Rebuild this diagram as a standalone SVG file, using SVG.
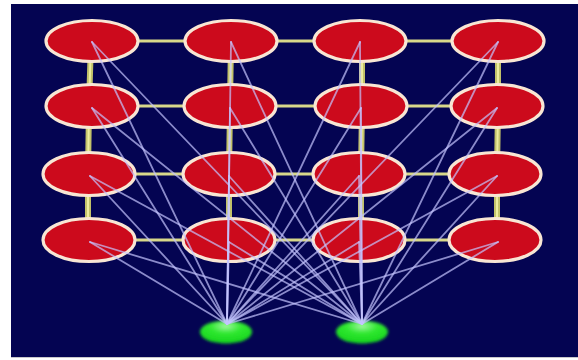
<svg xmlns="http://www.w3.org/2000/svg" width="578" height="360" viewBox="0 0 578 360">
  <defs>
    <style>
      .grid-h { fill: none; stroke: #d8d88a; stroke-width: 3; }
      .grid-v { fill: none; stroke: #c2c26a; stroke-width: 6; }
      .grid-v-core { fill: none; stroke: #ecec9e; stroke-width: 2; }
      .cell { fill: #cc0a1c; stroke: #f8e6d4; stroke-width: 3.2; }
      .link { stroke: #c4c4ff; stroke-width: 1.8; stroke-opacity: 0.7; stroke-linecap: round; }
      .out { fill: url(#glow); filter: url(#soft); }
    </style>
    <radialGradient id="glow" cx="0.5" cy="0.25" r="0.75">
      <stop offset="0" stop-color="#a0f8a0"/>
      <stop offset="0.4" stop-color="#30e830"/>
      <stop offset="1" stop-color="#14d41c"/>
    </radialGradient>
    <filter id="soft" x="-30%" y="-60%" width="160%" height="220%">
      <feGaussianBlur stdDeviation="1.4"/>
    </filter>
  </defs>

  <!-- backdrop -->
  <rect x="0" y="0" width="578" height="360" fill="#ffffff"/>
  <rect x="11" y="4" width="567" height="353" fill="#040452"/>
  <line x1="11" y1="357.5" x2="578" y2="357.5" stroke="#c8c8cc" stroke-width="1"/>

  <!-- lattice links between neighbouring cells -->
  <g id="grid-links">
    <polyline class="grid-h" points="92,41 231,41 360,41 498,41"/>
    <polyline class="grid-h" points="92,106 230,106 361,106 497,106"/>
    <polyline class="grid-h" points="89,174 229,174 359,174 495,174"/>
    <polyline class="grid-h" points="89,240 229,240 359,240 495,240"/>
    <polyline class="grid-v" points="91,41 89,106 88,174 88,240"/>
    <polyline class="grid-v" points="231,41 230,106 229,174 229,240"/>
    <polyline class="grid-v" points="362,41 362,106 361,174 361,240"/>
    <polyline class="grid-v" points="498,41 498,106 497,174 497,240"/>
    <polyline class="grid-v-core" points="91,41 89,106 88,174 88,240"/>
    <polyline class="grid-v-core" points="231,41 230,106 229,174 229,240"/>
    <polyline class="grid-v-core" points="362,41 362,106 361,174 361,240"/>
    <polyline class="grid-v-core" points="498,41 498,106 497,174 497,240"/>
  </g>

  <!-- 4x4 map cells -->
  <g id="n11"><ellipse class="cell" cx="92" cy="41" rx="46" ry="20.5"/></g>
  <g id="n12"><ellipse class="cell" cx="231" cy="41" rx="46" ry="20.5"/></g>
  <g id="n13"><ellipse class="cell" cx="360" cy="41" rx="46" ry="20.5"/></g>
  <g id="n14"><ellipse class="cell" cx="498" cy="41" rx="46" ry="20.5"/></g>
  <g id="n21"><ellipse class="cell" cx="92" cy="106" rx="46" ry="21.5"/></g>
  <g id="n22"><ellipse class="cell" cx="230" cy="106" rx="46" ry="21.5"/></g>
  <g id="n23"><ellipse class="cell" cx="361" cy="106" rx="46" ry="21.5"/></g>
  <g id="n24"><ellipse class="cell" cx="497" cy="106" rx="46" ry="21.5"/></g>
  <g id="n31"><ellipse class="cell" cx="89" cy="174" rx="46" ry="21.5"/></g>
  <g id="n32"><ellipse class="cell" cx="229" cy="174" rx="46" ry="21.5"/></g>
  <g id="n33"><ellipse class="cell" cx="359" cy="174" rx="46" ry="21.5"/></g>
  <g id="n34"><ellipse class="cell" cx="495" cy="174" rx="46" ry="21.5"/></g>
  <g id="n41"><ellipse class="cell" cx="89" cy="240" rx="46" ry="21.5"/></g>
  <g id="n42"><ellipse class="cell" cx="229" cy="240" rx="46" ry="21.5"/></g>
  <g id="n43"><ellipse class="cell" cx="359" cy="240" rx="46" ry="21.5"/></g>
  <g id="n44"><ellipse class="cell" cx="495" cy="240" rx="46" ry="21.5"/></g>

  <!-- input units -->
  <g id="in1"><ellipse class="out" cx="226" cy="332" rx="26" ry="11.5"/></g>
  <g id="in2"><ellipse class="out" cx="362" cy="332" rx="26" ry="11.5"/></g>

  <!-- every cell is wired to both input units -->
  <g id="connectors">
    <line class="link" x1="92" y1="42" x2="227" y2="324"/>
    <line class="link" x1="92" y1="42" x2="362" y2="324"/>
    <line class="link" x1="231" y1="42" x2="227" y2="324"/>
    <line class="link" x1="231" y1="42" x2="362" y2="324"/>
    <line class="link" x1="360" y1="42" x2="227" y2="324"/>
    <line class="link" x1="360" y1="42" x2="362" y2="324"/>
    <line class="link" x1="498" y1="42" x2="227" y2="324"/>
    <line class="link" x1="498" y1="42" x2="362" y2="324"/>
    <line class="link" x1="92" y1="108" x2="227" y2="324"/>
    <line class="link" x1="92" y1="108" x2="362" y2="324"/>
    <line class="link" x1="230" y1="108" x2="227" y2="324"/>
    <line class="link" x1="230" y1="108" x2="362" y2="324"/>
    <line class="link" x1="361" y1="108" x2="227" y2="324"/>
    <line class="link" x1="361" y1="108" x2="362" y2="324"/>
    <line class="link" x1="497" y1="108" x2="227" y2="324"/>
    <line class="link" x1="497" y1="108" x2="362" y2="324"/>
    <line class="link" x1="90" y1="176" x2="227" y2="324"/>
    <line class="link" x1="90" y1="176" x2="362" y2="324"/>
    <line class="link" x1="229" y1="176" x2="227" y2="324"/>
    <line class="link" x1="229" y1="176" x2="362" y2="324"/>
    <line class="link" x1="359" y1="176" x2="227" y2="324"/>
    <line class="link" x1="359" y1="176" x2="362" y2="324"/>
    <line class="link" x1="497" y1="176" x2="227" y2="324"/>
    <line class="link" x1="497" y1="176" x2="362" y2="324"/>
    <line class="link" x1="90" y1="242" x2="227" y2="324"/>
    <line class="link" x1="90" y1="242" x2="362" y2="324"/>
    <line class="link" x1="229" y1="242" x2="227" y2="324"/>
    <line class="link" x1="229" y1="242" x2="362" y2="324"/>
    <line class="link" x1="359" y1="242" x2="227" y2="324"/>
    <line class="link" x1="359" y1="242" x2="362" y2="324"/>
    <line class="link" x1="498" y1="242" x2="227" y2="324"/>
    <line class="link" x1="498" y1="242" x2="362" y2="324"/>
  </g>
</svg>
